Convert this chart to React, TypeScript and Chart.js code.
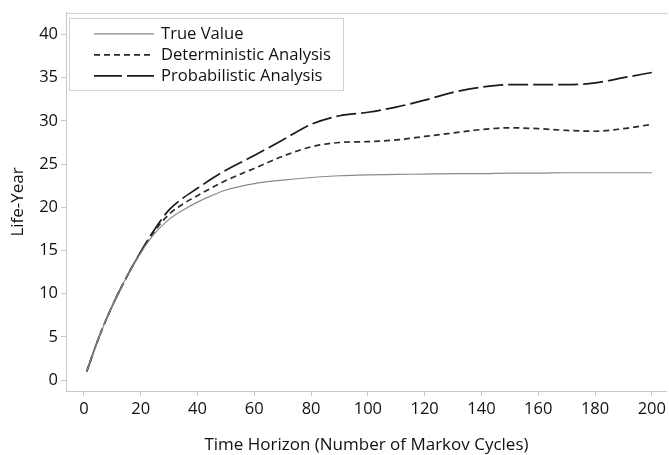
import React, { useEffect, useRef } from "react";
import { Chart, registerables } from "chart.js";

Chart.register(...registerables);

const cycles = [1, 5, 10, 15, 20, 25, 30, 35, 40, 45, 50, 60, 70, 80, 90, 100, 110, 120, 130, 140, 150, 160, 170, 180, 190, 200];
const trueValue = [1, 4.7, 8.6, 11.9, 14.7, 17.0, 18.6, 19.7, 20.6, 21.35, 22.0, 22.75, 23.15, 23.45, 23.65, 23.75, 23.8, 23.85, 23.9, 23.9, 23.95, 23.95, 24.0, 24.0, 24.0, 24.0];
const deterministic = [1, 4.7, 8.6, 11.9, 14.8, 17.3, 19.2, 20.4, 21.35, 22.25, 23.1, 24.5, 25.9, 27.0, 27.5, 27.6, 27.8, 28.2, 28.6, 29.0, 29.2, 29.1, 28.9, 28.8, 29.1, 29.6];
const probabilistic = [1, 4.7, 8.6, 11.9, 14.85, 17.5, 19.7, 21.1, 22.2, 23.3, 24.3, 26.0, 27.8, 29.6, 30.6, 31.0, 31.6, 32.4, 33.3, 33.9, 34.2, 34.2, 34.2, 34.4, 35.0, 35.6];
const xTicks = [0, 20, 40, 60, 80, 100, 120, 140, 160, 180, 200];
const yTicks = [0, 5, 10, 15, 20, 25, 30, 35, 40];
const seriesNames = ["True Value", "Deterministic Analysis", "Probabilistic Analysis"];

const FONT = "'Open Sans', 'Noto Sans', sans-serif";

const styles = [
  { color: "#8a8a8a", width: 1.2, dash: [] as number[] },
  { color: "#2a2a2a", width: 1.7, dash: [6, 4] },
  { color: "#1a1a1a", width: 1.7, dash: [20, 5] },
];

const frameLegendPlugin = {
  id: "frameLegend",
  afterDraw(chart: any) {
    const { ctx, chartArea } = chart;
    ctx.save();
    ctx.strokeStyle = "#cfcfcf";
    ctx.lineWidth = 1;
    ctx.beginPath();
    ctx.moveTo(chartArea.left, chartArea.top + 0.5);
    ctx.lineTo(chartArea.right + 1, chartArea.top + 0.5);
    ctx.stroke();

    const bx = chartArea.left + 3;
    const by = chartArea.top + 5;
    const bw = 274;
    const bh = 72;
    ctx.strokeStyle = "#d0d0d0";
    ctx.strokeRect(bx + 0.5, by + 0.5, bw, bh);
    ctx.font = `16.6px ${FONT}`;
    ctx.textBaseline = "middle";
    ctx.textAlign = "left";
    seriesNames.forEach((name, i) => {
      const y = by + 16 + i * 21;
      const st = styles[i];
      ctx.strokeStyle = st.color;
      ctx.lineWidth = st.width;
      ctx.setLineDash(i === 2 ? [28, 5] : st.dash);
      ctx.beginPath();
      ctx.moveTo(bx + 25, y);
      ctx.lineTo(bx + 85, y);
      ctx.stroke();
      ctx.setLineDash([]);
      ctx.fillStyle = "#111111";
      ctx.fillText(name, bx + 92, y);
    });
    ctx.restore();
  },
};

export default function App() {
  const ref = useRef<HTMLCanvasElement | null>(null);
  useEffect(() => {
    document.body.style.margin = "0";
    const canvas = ref.current!;
    const mk = (vals: number[]) => cycles.map((x, i) => ({ x, y: vals[i] }));
    const chart = new Chart(canvas, {
      type: "line",
      data: {
        datasets: [trueValue, deterministic, probabilistic].map((vals, i) => ({
          label: seriesNames[i],
          data: mk(vals),
          borderColor: styles[i].color,
          borderWidth: styles[i].width,
          borderDash: styles[i].dash,
          pointRadius: 0,
          fill: false,
          cubicInterpolationMode: "monotone" as const,
        })),
      },
      options: {
        responsive: false,
        animation: false,
        layout: { padding: { top: 10, right: 1, left: 0, bottom: 0 } },
        plugins: { legend: { display: false }, tooltip: { enabled: false } },
        scales: {
          x: {
            type: "linear",
            min: -6.3,
            max: 205.3,
            afterBuildTicks: (s: any) => {
              s.ticks = xTicks.map((v) => ({ value: v }));
            },
            afterFit: (s: any) => {
              s.height = 64;
            },
            grid: { drawOnChartArea: false, tickLength: 5, tickColor: "#c8c8c8" },
            border: { color: "#c8c8c8" },
            ticks: { color: "#111111", font: { family: FONT, size: 16.5 }, padding: 3, maxRotation: 0 },
            title: {
              display: true,
              text: "Time Horizon (Number of Markov Cycles)",
              color: "#111111",
              font: { family: FONT, size: 17 },
              padding: { top: 2, bottom: 0 },
            },
          },
          y: {
            type: "linear",
            min: -1.26,
            max: 42.5,
            afterBuildTicks: (s: any) => {
              s.ticks = yTicks.map((v) => ({ value: v }));
            },
            afterFit: (s: any) => {
              s.width = 66;
            },
            grid: { drawOnChartArea: false, tickLength: 5, tickColor: "#c8c8c8" },
            border: { color: "#c8c8c8" },
            ticks: { color: "#111111", font: { family: FONT, size: 16.5 }, padding: 3 },
            title: {
              display: true,
              text: "Life-Year",
              color: "#111111",
              font: { family: FONT, size: 17 },
              padding: { top: 8, bottom: 0 },
            },
          },
        },
      },
      plugins: [frameLegendPlugin],
    });
    return () => chart.destroy();
  }, []);
  return (
    <div style={{ width: 669, height: 455 }}>
      <canvas ref={ref} width={669} height={455} style={{ display: "block" }} />
    </div>
  );
}
